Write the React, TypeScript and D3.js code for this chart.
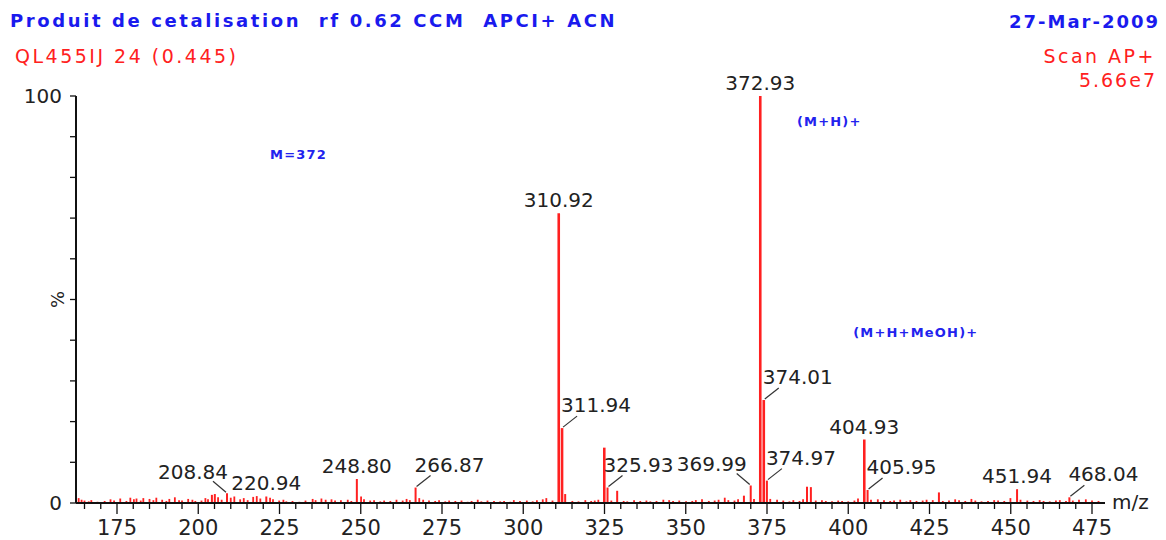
import React from "react";
import * as d3 from "d3";

// ---- data ----
const titleText = "Produit de cetalisation  rf 0.62 CCM  APCI+ ACN";
const dateText = "27-Mar-2009";
const sampleText = "QL455IJ 24 (0.445)";
const scanText = "Scan AP+";
const maxText = "5.66e7";

const xTicksMajor = [175, 200, 225, 250, 275, 300, 325, 350, 375, 400, 425, 450, 475];
const yTicks = [0, 10, 20, 30, 40, 50, 60, 70, 80, 90, 100];

// main peaks (m/z, relative intensity %)
const peakMz = [204.2, 205.1, 208.84, 220.94, 248.8, 266.87, 310.92, 311.94, 312.9, 324.93, 325.93, 328.9, 367.9, 369.99, 372.93, 374.01, 374.97, 387.3, 388.5, 404.93, 405.95, 427.9, 451.94, 468.04];
const peakInt = [2.0, 2.2, 2.4, 1.6, 5.9, 3.8, 71.2, 18.4, 2.2, 13.6, 3.8, 3.0, 1.8, 4.3, 100, 25.3, 5.5, 4.0, 3.9, 15.6, 3.2, 2.6, 3.4, 1.4];

// labelled peaks
const labelMz = [208.84, 220.94, 248.8, 266.87, 310.92, 311.94, 325.93, 369.99, 372.93, 374.01, 374.97, 404.93, 405.95, 451.94, 468.04];
const labelText = ["208.84", "220.94", "248.80", "266.87", "310.92", "311.94", "325.93", "369.99", "372.93", "374.01", "374.97", "404.93", "405.95", "451.94", "468.04"];
const labelMode = ["left", "center", "center", "right", "center", "right", "right", "left", "center", "right", "right", "center", "right", "center", "right"];

// baseline noise (m/z, %)
const noiseMz = [163.2, 164.1, 165.0, 166.3, 167.1, 169.0, 171.2, 173.0, 174.1, 176.0, 177.9, 179.1, 180.2, 181.0, 182.3, 183.1, 185.0, 186.2, 187.1, 188.9, 190.2, 191.1, 192.8, 194.1, 195.0, 196.9, 198.2, 199.1, 201.0, 202.2, 203.0, 206.1, 207.2, 210.0, 211.1, 212.9, 214.0, 215.2, 216.9, 218.0, 219.1, 222.1, 223.0, 224.9, 226.2, 227.1, 229.0, 231.1, 233.0, 235.2, 236.1, 237.9, 239.2, 241.0, 242.1, 243.9, 246.0, 247.1, 250.1, 251.0, 252.9, 254.1, 256.0, 257.2, 259.1, 261.0, 262.9, 264.1, 265.1, 268.0, 269.2, 271.0, 272.9, 274.1, 276.0, 277.2, 279.1, 281.0, 282.9, 284.1, 286.0, 287.1, 289.0, 291.0, 292.9, 294.1, 296.0, 297.1, 299.0, 301.1, 302.9, 304.2, 306.0, 307.1, 309.0, 315.1, 317.0, 319.1, 320.9, 322.0, 323.1, 327.1, 330.9, 332.0, 334.1, 336.0, 337.9, 339.1, 341.0, 343.1, 344.9, 346.1, 348.0, 350.1, 352.0, 353.1, 355.0, 357.1, 358.9, 360.1, 362.0, 363.1, 365.0, 366.1, 371.0, 376.0, 378.1, 380.0, 381.9, 383.1, 385.0, 386.1, 390.0, 391.9, 393.1, 395.0, 396.9, 398.1, 400.0, 401.9, 403.0, 407.0, 409.1, 411.0, 412.9, 414.1, 416.0, 417.9, 419.1, 421.0, 422.9, 424.1, 426.0, 429.1, 431.0, 432.9, 434.1, 436.0, 437.9, 439.1, 441.0, 443.0, 444.9, 446.1, 448.0, 449.9, 453.0, 455.1, 457.0, 458.9, 460.1, 462.0, 463.9, 465.1, 467.0, 469.1, 471.0, 473.1, 475.0, 477.0];
const noiseInt = [1.2, 0.8, 0.6, 0.4, 0.7, 0.3, 0.5, 0.9, 0.6, 1.1, 0.5, 1.3, 0.9, 1.1, 0.6, 1.2, 1.0, 0.7, 1.3, 0.8, 0.5, 1.0, 1.4, 0.7, 0.6, 1.0, 0.8, 0.5, 0.6, 1.2, 0.9, 1.4, 0.8, 1.3, 1.6, 0.9, 1.2, 0.7, 1.5, 1.7, 1.1, 1.3, 0.9, 0.6, 0.8, 0.4, 0.5, 0.3, 0.6, 1.0, 0.7, 1.1, 0.8, 0.9, 0.6, 0.7, 0.8, 0.5, 1.6, 0.9, 0.6, 0.7, 0.4, 0.6, 0.5, 0.8, 0.6, 1.0, 0.7, 1.2, 0.8, 0.6, 0.5, 0.7, 0.4, 0.6, 0.5, 0.6, 0.3, 0.5, 0.8, 0.4, 0.6, 0.5, 0.4, 0.5, 0.3, 0.7, 0.5, 0.6, 0.4, 0.7, 0.9, 1.2, 0.6, 0.5, 0.4, 0.7, 0.5, 0.6, 0.8, 0.6, 0.5, 0.4, 0.7, 0.5, 0.6, 0.4, 0.5, 0.8, 0.7, 0.5, 0.6, 0.4, 0.5, 0.7, 0.9, 0.5, 0.6, 0.8, 1.3, 0.7, 0.6, 0.9, 1.0, 1.0, 0.8, 0.6, 0.4, 0.7, 0.5, 0.9, 0.6, 0.7, 0.5, 0.4, 0.6, 0.5, 0.4, 0.6, 1.1, 0.8, 0.9, 0.7, 0.5, 0.6, 0.8, 0.4, 0.7, 0.5, 0.6, 0.8, 0.7, 0.5, 0.6, 0.9, 0.7, 0.5, 1.0, 0.6, 0.4, 0.5, 0.7, 0.6, 0.5, 1.2, 0.8, 0.6, 0.5, 0.7, 0.5, 0.4, 0.6, 0.7, 0.5, 0.6, 0.8, 0.9, 0.6, 0.5, 0.4];

const annotText = ["M=372", "(M+H)+", "(M+H+MeOH)+"];
const annotMz = [222.1, 384.2, 401.5];
const annotY = [84.5, 92.6, 40.8];

export default function App() {
  const W = 1166, H = 540;
  const x = d3.scaleLinear().domain([175, 475]).range([117, 1092]);
  const y = d3.scaleLinear().domain([0, 100]).range([503, 96]);
  const x0 = 76, x1 = 1105;
  const minorTicks = d3.range(165, 480, 5);
  const red = "#ff2020";
  const font = "'DejaVu Sans', Verdana, sans-serif";
  const pre = { whiteSpace: "pre" as const };

  // small per-label nudges for leader-style labels (layout, not data)
  const labelNudge: Record<string, number> = { "369.99": -5, "325.93": -3 };

  const noise = noiseMz.map((m, i) => ({ m, v: noiseInt[i] }));
  const peaks = peakMz.map((m, i) => ({ m, v: peakInt[i] }));

  const labels = labelMz.map((m, i) => {
    const idx = peakMz.indexOf(m);
    const v = idx >= 0 ? peakInt[idx] : 1;
    return { m, v, t: labelText[i], mode: labelMode[i] };
  });

  const lblStyle = { fontFamily: font, fontSize: 20, fill: "#222" };

  return (
    <svg width={W} height={H} style={{ display: "block", position: "absolute", left: 0, top: 0, background: "#fff" }}>
      <rect x={0} y={0} width={W} height={H} fill="#fff" />
      {/* header */}
      <text x={10} y={27} fontFamily={font} fontWeight="bold" fontSize={18} letterSpacing={2.6} fill="#1a1aee" style={pre}>{titleText}</text>
      <text x={1160} y={28} fontFamily={font} fontWeight="bold" fontSize={18} letterSpacing={2} fill="#1a1aee" textAnchor="end">{dateText}</text>
      <text x={15} y={63} fontFamily={font} fontSize={19} letterSpacing={2.5} fill={red}>{sampleText}</text>
      <text x={1156} y={63} fontFamily={font} fontSize={19} letterSpacing={2.5} fill={red} textAnchor="end">{scanText}</text>
      <text x={1157} y={87} fontFamily={font} fontSize={19} letterSpacing={2} fill={red} textAnchor="end">{maxText}</text>

      {/* noise */}
      {noise.map((d, i) => (
        <line key={"n" + i} x1={x(d.m)} x2={x(d.m)} y1={y(0)} y2={y(d.v)} stroke={red} strokeWidth={1.8} />
      ))}
      {/* peaks */}
      {peaks.map((d, i) => (
        <line key={"p" + i} x1={x(d.m)} x2={x(d.m)} y1={y(0)} y2={y(d.v)} stroke={red} strokeWidth={d.v > 10 ? 2.6 : 2} />
      ))}

      {/* axes */}
      <line x1={x0} x2={x1} y1={503} y2={503} stroke="#111" strokeWidth={2} />
      <line x1={x0} x2={x0} y1={y(100)} y2={503} stroke="#111" strokeWidth={2} />
      {yTicks.map((t) => (
        <line key={"yt" + t} x1={x0 - 6} x2={x0} y1={y(t)} y2={y(t)} stroke="#111" strokeWidth={1.3} />
      ))}
      <text x={62} y={y(100) + 7} fontFamily={font} fontSize={20} fill="#222" textAnchor="end">100</text>
      <text x={62} y={y(0) + 7} fontFamily={font} fontSize={20} fill="#222" textAnchor="end">0</text>
      <text transform={`translate(64,${y(50)}) rotate(-90)`} fontFamily={font} fontSize={18} fill="#222" textAnchor="middle">%</text>

      {minorTicks.map((t) => (
        <line key={"mt" + t} x1={x(t)} x2={x(t)} y1={503} y2={t % 25 === 0 ? 514 : 509} stroke="#111" strokeWidth={1.3} />
      ))}
      {xTicksMajor.map((t) => (
        <text key={"xl" + t} x={x(t)} y={535} fontFamily={font} fontSize={21} fill="#222" textAnchor="middle">{t}</text>
      ))}
      <text x={1112} y={509} fontFamily={font} fontSize={20} fill="#222">m/z</text>

      {/* peak labels */}
      {labels.map((d, i) => {
        const px = x(d.m), py = y(d.v);
        const nudge = labelNudge[d.t] || 0;
        if (d.mode === "center") {
          return <text key={"l" + i} x={px} y={py - 6} {...lblStyle} textAnchor="middle">{d.t}</text>;
        }
        if (d.mode === "right") {
          return (
            <g key={"l" + i}>
              <line x1={px + 1} y1={py - 1} x2={px + 15} y2={py - 12} stroke="#333" strokeWidth={1.2} />
              <text x={px - 1 + nudge} y={py - 16} {...lblStyle}>{d.t}</text>
            </g>
          );
        }
        return (
          <g key={"l" + i}>
            <line x1={px - 1} y1={py - 1} x2={px - 14} y2={py - 12} stroke="#333" strokeWidth={1.2} />
            <text x={px + 1 + nudge} y={py - 14} {...lblStyle} textAnchor="end">{d.t}</text>
          </g>
        );
      })}

      {/* annotations */}
      {annotText.map((t, i) => (
        <text key={"a" + i} x={x(annotMz[i])} y={y(annotY[i])} fontFamily={font} fontWeight="bold" fontSize={13} letterSpacing={1.2} fill="#2222ee">{t}</text>
      ))}
    </svg>
  );
}
